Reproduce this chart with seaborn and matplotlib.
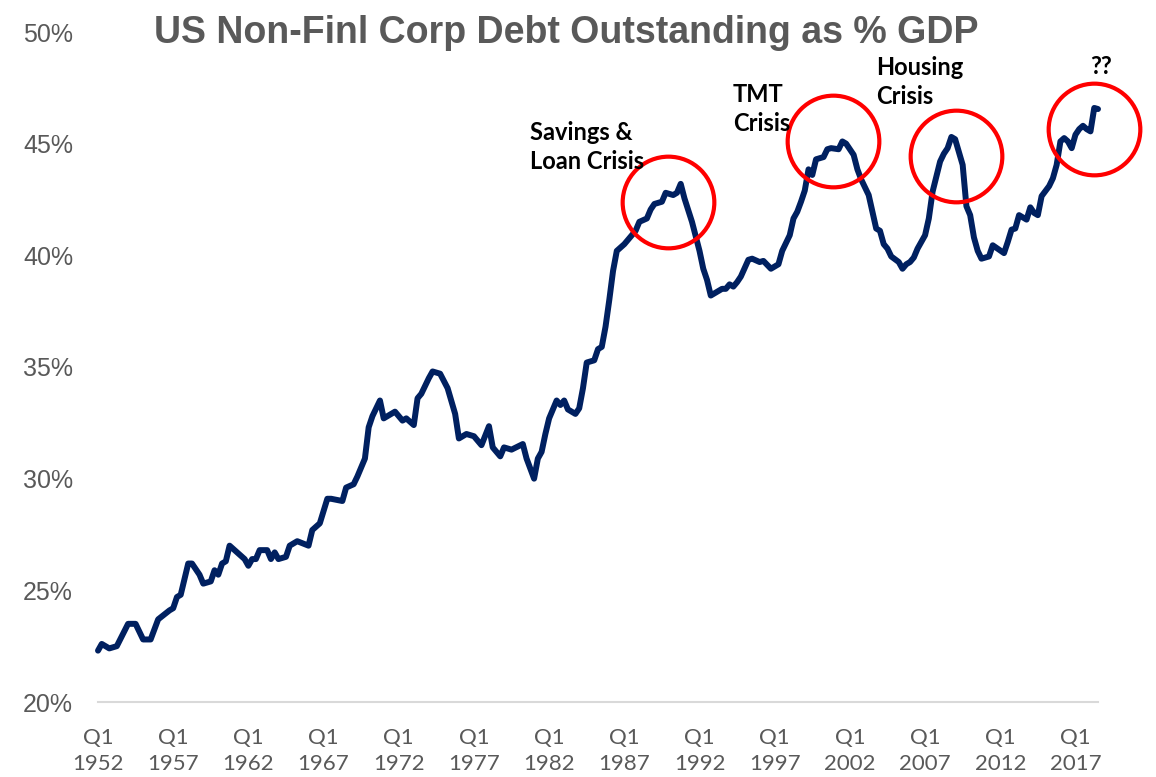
import matplotlib
matplotlib.use("Agg")
import matplotlib.pyplot as plt
import seaborn as sns
import pandas as pd
import numpy as np

# Quarterly observations (period, debt as % of GDP)
quarters = [
    "1952Q1", "1952Q2", "1952Q4", "1953Q2", "1954Q1", "1954Q3", "1955Q1", "1955Q3",
    "1956Q1", "1956Q4", "1957Q1", "1957Q2", "1957Q3", "1958Q1", "1958Q2", "1958Q4",
    "1959Q1", "1959Q3", "1959Q4", "1960Q1", "1960Q2", "1960Q3", "1960Q4", "1961Q2",
    "1961Q4", "1962Q1", "1962Q2", "1962Q3", "1962Q4", "1963Q2", "1963Q3", "1963Q4",
    "1964Q1", "1964Q3", "1964Q4", "1965Q2", "1966Q1", "1966Q2", "1966Q4", "1967Q2",
    "1967Q3", "1968Q2", "1968Q3", "1969Q1", "1969Q2", "1969Q3", "1969Q4", "1970Q1",
    "1970Q2", "1970Q4", "1971Q1", "1971Q2", "1971Q4", "1972Q2", "1972Q3", "1973Q1",
    "1973Q2", "1973Q3", "1974Q1", "1974Q2", "1974Q4", "1975Q2", "1975Q4", "1976Q1",
    "1976Q3", "1977Q1", "1977Q3", "1978Q1", "1978Q2", "1978Q4", "1979Q1", "1979Q3",
    "1980Q2", "1980Q3", "1981Q1", "1981Q2", "1981Q3", "1981Q4", "1982Q1", "1982Q3",
    "1982Q4", "1983Q1", "1983Q2", "1983Q4", "1984Q1", "1984Q2", "1984Q3", "1985Q1",
    "1985Q2", "1985Q3", "1985Q4", "1986Q1", "1986Q2", "1986Q3", "1987Q1", "1987Q2",
    "1987Q4", "1988Q1", "1988Q3", "1988Q4", "1989Q1", "1989Q3", "1989Q4", "1990Q2",
    "1990Q3", "1990Q4", "1991Q1", "1991Q3", "1992Q1", "1992Q2", "1992Q3", "1992Q4",
    "1993Q1", "1993Q3", "1993Q4", "1994Q1", "1994Q2", "1994Q3", "1994Q4", "1995Q2",
    "1995Q3", "1996Q1", "1996Q2", "1996Q4", "1997Q2", "1997Q3", "1998Q1", "1998Q2",
    "1998Q3", "1998Q4", "1999Q1", "1999Q2", "1999Q3", "1999Q4", "2000Q2", "2000Q3",
    "2000Q4", "2001Q2", "2001Q3", "2001Q4", "2002Q2", "2002Q3", "2002Q4", "2003Q2",
    "2003Q3", "2003Q4", "2004Q1", "2004Q2", "2004Q3", "2004Q4", "2005Q2", "2005Q3",
    "2005Q4", "2006Q1", "2006Q2", "2006Q3", "2007Q1", "2007Q2", "2007Q3", "2008Q1",
    "2008Q2", "2008Q3", "2008Q4", "2009Q1", "2009Q3", "2009Q4", "2010Q1", "2010Q2",
    "2010Q3", "2010Q4", "2011Q2", "2011Q3", "2012Q2", "2012Q3", "2012Q4", "2013Q1",
    "2013Q2", "2013Q4", "2014Q1", "2014Q2", "2014Q3", "2014Q4", "2015Q2", "2015Q3",
    "2015Q4", "2016Q1", "2016Q2", "2016Q3", "2016Q4", "2017Q1", "2017Q2", "2017Q3",
    "2017Q4", "2018Q1", "2018Q2", "2018Q3",
]

debt_pct_gdp = [
    22.3, 22.6, 22.4, 22.5, 23.5, 23.5, 22.8, 22.8,
    23.7, 24.1, 24.2, 24.7, 24.8, 26.2, 26.2, 25.7,
    25.3, 25.4, 25.9, 25.7, 26.2, 26.3, 27.0, 26.7,
    26.4, 26.1, 26.4, 26.4, 26.8, 26.8, 26.4, 26.7,
    26.4, 26.5, 27.0, 27.2, 27.0, 27.7, 28.0, 29.1,
    29.1, 29.0, 29.6, 29.75, 30.1, 30.5, 30.9, 32.3,
    32.8, 33.5, 32.7, 32.8, 33.0, 32.6, 32.7, 32.4,
    33.6, 33.8, 34.5, 34.8, 34.7, 34.05, 32.9, 31.8,
    32.0, 31.9, 31.5, 32.35, 31.4, 31.0, 31.4, 31.3,
    31.55, 30.9, 30.0, 30.9, 31.2, 32.0, 32.7, 33.5,
    33.3, 33.5, 33.1, 32.9, 33.15, 34.05, 35.2, 35.3,
    35.8, 35.9, 36.8, 38.0, 39.3, 40.2, 40.5, 40.7,
    41.1, 41.5, 41.65, 42.05, 42.3, 42.4, 42.8, 42.7,
    42.8, 43.2, 42.55, 41.5, 40.2, 39.4, 38.9, 38.2,
    38.3, 38.5, 38.5, 38.7, 38.6, 38.8, 39.05, 39.8,
    39.85, 39.7, 39.75, 39.4, 39.6, 40.2, 40.9, 41.65,
    41.95, 42.4, 42.9, 43.85, 43.6, 44.3, 44.4, 44.75,
    44.8, 44.75, 45.1, 45.0, 44.5, 43.85, 43.4, 42.7,
    41.95, 41.2, 41.1, 40.5, 40.3, 39.95, 39.7, 39.4,
    39.6, 39.7, 39.9, 40.3, 40.9, 41.65, 42.85, 44.2,
    44.55, 44.8, 45.3, 45.2, 44.05, 42.2, 41.8, 40.8,
    40.2, 39.85, 39.95, 40.45, 40.1, 40.6, 41.15, 41.2,
    41.8, 41.6, 42.15, 41.9, 41.8, 42.65, 43.1, 43.45,
    44.05, 45.1, 45.25, 45.1, 44.8, 45.4, 45.65, 45.8,
    45.65, 45.55, 46.6, 46.55,
]

tick_years = [1952, 1957, 1962, 1967, 1972, 1977, 1982, 1987, 1992, 1997, 2002, 2007, 2012, 2017]
y_ticks = [20, 25, 30, 35, 40, 45, 50]

crisis_labels = ["Savings &\nLoan Crisis", "TMT\nCrisis", "Housing\nCrisis", "??"]

# Build a quarter-index axis (0 = 1952 Q1), the way a category axis spaces quarters
periods = pd.PeriodIndex(quarters, freq="Q")
base = pd.Period("1952Q1", freq="Q")
qidx = np.array([(p - base).n for p in periods])
df = pd.DataFrame({"q": qidx, "pct": debt_pct_gdp})

sns.set_theme(style="white")
plt.rcParams["font.family"] = ["Liberation Sans", "DejaVu Sans"]

W, H = 1156, 777
fig = plt.figure(figsize=(W / 100, H / 100), dpi=100)
ax = fig.add_axes([98 / W, 1 - 702 / H, 1000 / W, 670 / H])

navy = "#002060"
grey = "#595959"

sns.lineplot(data=df, x="q", y="pct", ax=ax, color=navy, linewidth=4.3,
             solid_joinstyle="round", solid_capstyle="round", clip_on=False, zorder=4)

ax.set_xlim(0, qidx.max())
ax.set_ylim(20, 50)

tick_pos = [(pd.Period(f"{y}Q1", freq="Q") - base).n for y in tick_years]
ax.set_xticks(tick_pos)
ax.set_xticklabels([f"Q1\n{y}" for y in tick_years], fontfamily="Lato",
                   fontsize=16, color=grey, linespacing=1.35)
ax.set_yticks(y_ticks)
ax.set_yticklabels([f"{v}%" for v in y_ticks], fontsize=18, color=grey)
ax.tick_params(axis="x", length=0, pad=19)
ax.tick_params(axis="y", length=0, pad=18)
ax.set_xlabel("")
ax.set_ylabel("")

for side in ["top", "right", "left"]:
    ax.spines[side].set_visible(False)
ax.spines["bottom"].set_color("#d9d9d9")
ax.spines["bottom"].set_linewidth(1.5)
ax.spines["bottom"].set_zorder(1)

# Red rings highlighting each episode (centre in quarter index / percent)
ring_centres = [(151.7, 42.4), (195.6, 45.1), (228.3, 44.45), (265.0, 45.65)]
for cx, cy in ring_centres:
    ax.plot([cx], [cy], marker="o", markersize=66, markerfacecolor="none",
            markeredgecolor="#ff0000", markeredgewidth=3.0, clip_on=False, zorder=5)

# Episode labels
label_pos = [(530, 121), (733, 83), (876, 56), (1090, 55)]
for (px, py), txt in zip(label_pos, crisis_labels):
    fig.text(px / W, 1 - py / H, txt, ha="left", va="top", fontfamily="Lato",
             fontweight="bold", fontsize=17, color="black", linespacing=1.3)

fig.text(566 / W, 1 - 43 / H, "US Non-Finl Corp Debt Outstanding as % GDP",
         ha="center", va="baseline", fontsize=27, fontweight="bold", color=grey)

fig.savefig("out.png", dpi=100, facecolor="white")
